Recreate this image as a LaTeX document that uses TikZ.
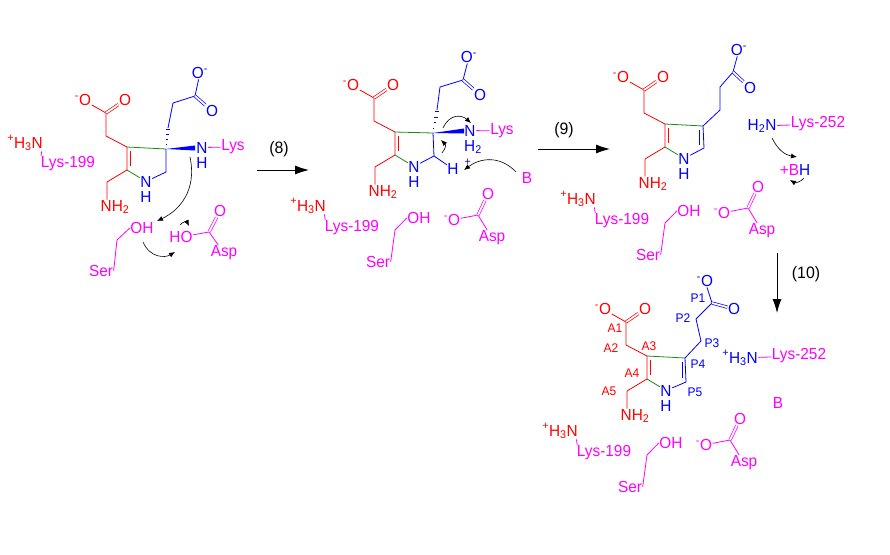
\documentclass[tikz,border=0pt]{standalone}
\usepackage{fontspec}
\setmainfont[FakeStretch=0.96]{Liberation Sans}
\usepackage{xcolor}
\usetikzlibrary{positioning,calc,arrows.meta}
\definecolor{ProRed}{HTML}{FF0000}
\definecolor{ProBlue}{HTML}{0000FF}
\definecolor{ProPink}{HTML}{FF00FF}
\definecolor{ProGreen}{HTML}{1A8A1A}
\newcommand{\Sp}[1]{\textsuperscript{#1}}
\newcommand{\Sb}[1]{\textsubscript{#1}}

\begin{document}
\begin{tikzpicture}[x=1pt,y=-1pt,
                    every node/.style={inner sep=0.5pt, font=\fontsize{16}{17}\selectfont},
                    redatom/.style={text=ProRed},
                    blueatom/.style={text=ProBlue},
                    pinkatom/.style={text=ProPink},
                    tag/.style={font=\fontsize{12.5}{13}\selectfont},
                    steplabel/.style={font=\fontsize{16.5}{17}\selectfont},
                    redbond/.style={draw=ProRed, line width=0.8pt},
                    bluebond/.style={draw=ProBlue, line width=0.8pt},
                    pinkbond/.style={draw=ProPink, line width=0.8pt},
                    greenbond/.style={draw=ProGreen, line width=0.8pt},
                    twobond/.style={double, double distance=1.8pt, line width=0.7pt},
                    rxn/.style={draw=black, line width=0.9pt, -{Latex[length=14pt,width=9pt]}},
                    curly/.style={draw=black, line width=0.6pt, -{Latex[length=6pt,width=5pt]}}]
\useasboundingbox (0,0) rectangle (890,554);

% acetate side and pyrrole left half, same in all four
\foreach \m/\dx/\dy in {a/-268/15,b/0/0,c/270/-8,d/252/224}{
\begin{scope}[shift={(\dx,\dy)},name prefix=\m-]
\node[redatom] (om) at (351,85) {\Sp{-}O};
\node[redatom] (op) at (393,85) {O};
\coordinate (a1) at (374,98);
\coordinate (a2) at (374,121);
\coordinate (a3) at (395,132);
\coordinate (a4) at (395,155);
\coordinate (a5) at (375,167);
\coordinate (i1) at (398,136);
\coordinate (i2) at (398,151);
\node[redatom] (nh) at (383,192) {NH\Sb{2}};
\node[blueatom] (n) at (414,166.5) {N};
\node[blueatom] (h) at (414,181.5) {H};
\draw[redbond] (om) -- (a1);
\draw[redbond,twobond] (a1) -- (op);
\draw[redbond] (a1) -- (a2) -- (a3);
\draw[redbond] (a3) -- (a4) -- (a5);
\draw[redbond] (i1) -- (i2);
\draw[redbond] (a5) -- ([xshift=7pt]nh.north west);
\draw[greenbond] (a4) -- (n);
\end{scope}
}

% Lys-199, Ser, Asp
\node[redatom] (a-lysn) at (25,143) {\Sp{+}H\Sb{3}N};
\node[pinkatom] (a-lys) at (68,164) {Lys-199};
\draw[pinkbond] ([xshift=-2pt]a-lysn.south east) -- ([xshift=1pt]a-lys.north west);
\node[pinkatom] (a-ser) at (101,271) {Ser};
\node[pinkatom] (a-oh) at (142,228) {OH};
\coordinate (a-s1) at (117,240);
\draw[pinkbond] (a-ser.east) -- (a-s1) -- (a-oh.west);
\node[pinkatom] (a-ho) at (181,237) {HO};
\coordinate (a-d1) at (209,232);
\node[pinkatom] (a-do) at (220,211) {O};
\node[pinkatom] (a-asp) at (224,253) {Asp};
\draw[pinkbond] (a-ho) -- (a-d1) -- (a-asp);
\draw[pinkbond,twobond] (a-d1) -- (a-do);

\foreach \m/\dx/\dy in {b/0/0,c/270/-7,d/252/225}{
\begin{scope}[shift={(\dx,\dy)},name prefix=\m-]
\node[redatom] (lysn) at (308,206) {\Sp{+}H\Sb{3}N};
\node[pinkatom] (lys) at (352,228) {Lys-199};
\draw[pinkbond] ([xshift=-2pt]lysn.south east) -- ([xshift=1pt]lys.north west);
\node[pinkatom] (ser) at (378,262) {Ser};
\node[pinkatom] (oh) at (419,218) {OH};
\coordinate (s1) at (395,230);
\draw[pinkbond] (ser.east) -- (s1) -- (oh.west);
\node[pinkatom] (ao) at (452,220) {\Sp{-}O};
\coordinate (d1) at (478,215);
\node[pinkatom] (do) at (488,194) {O};
\node[pinkatom] (asp) at (492,238) {Asp};
\draw[pinkbond] (ao) -- (d1) -- (asp);
\draw[pinkbond,twobond] (d1) -- (do);
\end{scope}
}

% first structure
\coordinate (a-cq) at (166,149);
\coordinate (a-p5) at (166,172);
\coordinate (a-p3) at (168,128);
\coordinate (a-p2) at (173,103);
\coordinate (a-p1) at (195,96);
\coordinate (a-tip) at (195,148);
\node[blueatom] (a-o1) at (200,73) {O\Sp{-}};
\node[blueatom] (a-o2) at (212,111) {O};
\node[blueatom] (a-nl) at (202,147.5) {N};
\node[blueatom] (a-hl) at (202,162.5) {H};
\node[pinkatom] (a-ly) at (233,147) {Lys};
\draw[greenbond] (a-a3) -- (a-cq);
\draw[bluebond] (a-cq) -- (a-p5) -- (a-n);
\foreach \t/\w in {0.2/0.6,0.45/1.1,0.7/1.7,0.95/2.3}
  \draw[bluebond] ($(a-cq)!\t!(a-p3)$) +(-\w,0) -- +(\w,0);
\draw[bluebond] (a-p3) -- (a-p2) -- (a-p1) -- (a-o1);
\draw[bluebond,twobond] (a-p1) -- (a-o2);
\fill[ProBlue] (a-cq) -- ([yshift=2.5pt]a-tip) -- ([yshift=-2.5pt]a-tip) -- cycle;
\draw[pinkbond] (a-nl) -- (a-ly);

% second structure
\coordinate (b-cq) at (433,133);
\coordinate (b-p5) at (434,156);
\coordinate (b-p3) at (437,110);
\coordinate (b-p2) at (440,87);
\coordinate (b-p1) at (463,80);
\coordinate (b-tip) at (464,131);
\node[blueatom] (b-o1) at (469,57) {O\Sp{-}};
\node[blueatom] (b-o2) at (480,95) {O};
\node[blueatom] (b-nl) at (470,130.5) {N};
\node[blueatom] (b-hl) at (473,147) {H\Sb{2}};
\node[pinkatom] (b-ly) at (502,131) {Lys};
\node[blueatom] (b-hh) at (453,169) {H};
\node[blueatom] (b-pl) at (468,165) {\Sp{+}};
\node[pinkatom] (b-bb) at (527,178) {B};
\draw[greenbond] (b-a3) -- (b-cq);
\draw[bluebond] (b-cq) -- (b-p5) -- (b-n);
\draw[bluebond] (b-p5) -- (b-hh);
\foreach \t/\w in {0.2/0.6,0.45/1.1,0.7/1.7,0.95/2.3}
  \draw[bluebond] ($(b-cq)!\t!(b-p3)$) +(-\w,0) -- +(\w,0);
\draw[bluebond] (b-p3) -- (b-p2) -- (b-p1) -- (b-o1);
\draw[bluebond,twobond] (b-p1) -- (b-o2);
\fill[ProBlue] (b-cq) -- ([yshift=2.5pt]b-tip) -- ([yshift=-2.5pt]b-tip) -- cycle;
\draw[pinkbond] (b-nl) -- (b-ly);

% third structure
\coordinate (c-cq) at (703,126);
\coordinate (c-p5) at (704,148);
\coordinate (c-i1) at (699,130);
\coordinate (c-i2) at (699,145);
\coordinate (c-p3) at (720,110);
\coordinate (c-p2) at (720,87);
\coordinate (c-p1) at (733,72);
\node[blueatom] (c-o1) at (739,50) {O\Sp{-}};
\node[blueatom] (c-o2) at (750,88) {O};
\node[blueatom] (c-nl) at (762,126) {H\Sb{2}N};
\node[pinkatom] (c-ly) at (818,124) {Lys-252};
\node[pinkatom] (c-bh) at (795,170) {+B\textcolor{ProBlue}{H}};
\draw[greenbond] (c-a3) -- (c-cq);
\draw[bluebond] (c-cq) -- (c-p5) -- (c-n);
\draw[bluebond] (c-i1) -- (c-i2);
\draw[bluebond] (c-cq) -- (c-p3) -- (c-p2) -- (c-p1) -- (c-o1);
\draw[bluebond,twobond] (c-p1) -- (c-o2);
\draw[pinkbond] (c-nl) -- (c-ly);

% fourth structure
\coordinate (d-cq) at (685,358);
\coordinate (d-p5) at (686,382);
\coordinate (d-i1) at (682,362);
\coordinate (d-i2) at (682,378);
\coordinate (d-p3) at (701,341);
\coordinate (d-p2) at (696,319);
\coordinate (d-p1) at (712,303);
\node[blueatom] (d-o1) at (705,281) {\Sp{-}O};
\node[blueatom] (d-o2) at (734,309) {O};
\node[blueatom] (d-nl) at (740,358) {\Sp{+}H\Sb{3}N};
\node[pinkatom] (d-ly) at (799,356) {Lys-252};
\node[pinkatom] (d-bb) at (778,403) {B};
\draw[greenbond] (d-a3) -- (d-cq);
\draw[bluebond] (d-cq) -- (d-p5) -- (d-n);
\draw[bluebond] (d-i1) -- (d-i2);
\draw[bluebond] (d-cq) -- (d-p3) -- (d-p2) -- (d-p1) -- (d-o1);
\draw[bluebond,twobond] (d-p1) -- (d-o2);
\draw[pinkbond] (d-nl) -- (d-ly);
\node[redatom,tag] (tA1) at (615,328) {A1};
\node[redatom,tag] (tA2) at (611,348) {A2};
\node[redatom,tag] (tA3) at (649,346) {A3};
\node[redatom,tag] (tA4) at (632,373) {A4};
\node[redatom,tag] (tA5) at (609,391) {A5};
\node[blueatom,tag] (tP1) at (698,298) {P1};
\node[blueatom,tag] (tP2) at (683,318) {P2};
\node[blueatom,tag] (tP3) at (712,343) {P3};
\node[blueatom,tag] (tP4) at (698,364) {P4};
\node[blueatom,tag] (tP5) at (695,392) {P5};

% reaction arrows
\coordinate (r8a) at (257,170);
\coordinate (r8b) at (309,170);
\coordinate (r9a) at (538,149);
\coordinate (r9b) at (610,149);
\coordinate (r10a) at (777,253);
\coordinate (r10b) at (777,313);
\draw[rxn] (r8a) -- (r8b);
\draw[rxn] (r9a) -- (r9b);
\draw[rxn] (r10a) -- (r10b);
\node[steplabel] (l8) at (279,149) {(8)};
\node[steplabel] (l9) at (564,130) {(9)};
\node[steplabel] (l10) at (806,274) {(10)};

% electron pushing
\coordinate (e1a) at (190,157);
\coordinate (e1b) at (157,221);
\coordinate (e2a) at (143,242);
\coordinate (e2b) at (175,252);
\coordinate (e3a) at (180,225);
\coordinate (e3b) at (189,226);
\coordinate (e4a) at (443,128);
\coordinate (e4b) at (471,123);
\coordinate (e5a) at (442,153);
\coordinate (e5b) at (441,140);
\coordinate (e6a) at (516,172);
\coordinate (e6b) at (464,170);
\coordinate (e7a) at (772,138);
\coordinate (e7b) at (797,157);
\coordinate (e8a) at (804,178);
\coordinate (e8b) at (790,180);
\draw[curly] (e1a) .. controls (197,190) and (180,210) .. (e1b);
\draw[curly] (e2a) .. controls (150,258) and (165,258) .. (e2b);
\draw[curly] (e3a) .. controls (183,221) and (187,222) .. (e3b);
\draw[curly] (e4a) .. controls (450,113) and (462,115) .. (e4b);
\draw[curly] (e5a) .. controls (446,148) and (446,145) .. (e5b);
\draw[curly] (e6a) .. controls (500,155) and (480,158) .. (e6b);
\draw[curly] (e7a) .. controls (778,150) and (785,155) .. (e7b);
\draw[curly] (e8a) .. controls (801,182) and (795,183) .. (e8b);
\end{tikzpicture}
\end{document}
